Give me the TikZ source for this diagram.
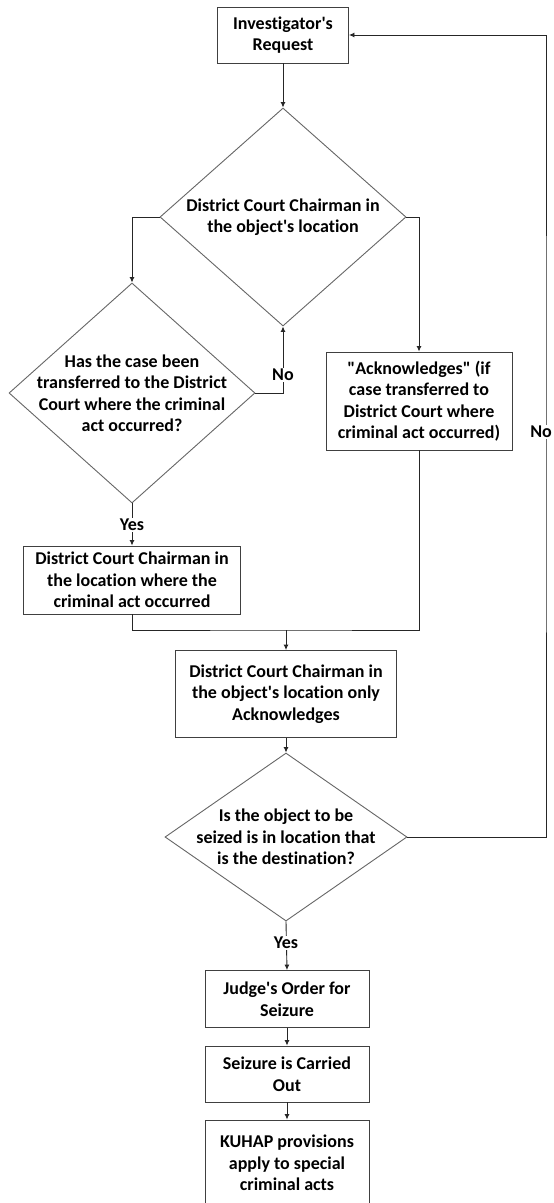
\documentclass[tikz,border=0pt]{standalone}
\usepackage{fontspec}
\setmainfont{Carlito}[Ligatures={TeXOff,CommonOff}]
\usetikzlibrary{shapes.geometric,arrows.meta}
\begin{document}
\begin{tikzpicture}[x=1pt,y=-1pt,
  font=\fontsize{18}{21.5}\selectfont\bfseries,
  box/.style={draw=black!75, line width=0.9pt, align=center, inner sep=0pt, fill=white},
  decision/.style={diamond, draw=black!60, line width=0.9pt, inner sep=0pt},
  dtext/.style={align=center, inner sep=0pt},
  flow/.style={draw=black!85, line width=0.9pt, -{Latex[length=5.5pt,width=5pt]}},
  link/.style={draw=black!85, line width=0.9pt},
  tag/.style={fill=white, inner sep=1pt}]
\useasboundingbox (0,0) rectangle (554,1203);
\fill[white] (0,0) rectangle (554,1203);

% process boxes
\node[box, minimum width=131, minimum height=56] (req) at (283,35) {Investigator's\\Request};
\node[box, minimum width=186, minimum height=98] (ack) at (419,401)
  {"Acknowledges" (if\\case transferred to\\District Court where\\criminal act occurred)};
\node[box, minimum width=217, minimum height=68] (yes1) at (132,580)
  {District Court Chairman in\\the location where the\\criminal act occurred};
\node[box, minimum width=221, minimum height=87] (loc) at (286,694)
  {District Court Chairman in\\the object's location only\\Acknowledges};
\node[box, minimum width=164, minimum height=57] (judge) at (287,999) {Judge's Order for\\Seizure};
\node[box, minimum width=164, minimum height=56] (seize) at (287,1074) {Seizure is Carried\\Out};
\node[box, minimum width=164, minimum height=86] (kuhap) at (287,1163)
  {KUHAP provisions\\apply to special\\criminal acts};

% decisions
\node[decision, minimum width=246, minimum height=218] (d1) at (283,217) {};
\node[dtext] (d1t) at (283,217) {District Court Chairman in\\the object's location};
\node[decision, minimum width=246, minimum height=220] (d2) at (132,393) {};
\node[dtext] (d2t) at (132,393) {Has the case been\\transferred to the District\\Court where the criminal\\act occurred?};
\node[decision, minimum width=242, minimum height=168] (d3) at (286,837) {};
\node[dtext] (d3t) at (286,837) {Is the object to be\\seized is in location that\\is the destination?};

% connectors
\coordinate (join) at (286,630);
\coordinate (ret) at (546,432);
\draw[flow] (req) -- (d1);
\draw[flow] (d1.west) -| (d2.north);
\draw[flow] (d1.east) -| (ack.north);
\draw[flow] (d2.east) -| (d1.south);
\node[tag] (no1) at (283,375) {No};
\draw[flow] (d2.south) -- (yes1.north);
\node[tag] (yes1t) at (132,525) {Yes};
\draw[link] (yes1.south) |- (join) -| (ack.south);
\draw[flow] (join) -- (loc.north);
\draw[flow] (loc) -- (d3);
\draw[flow] (d3.south) -- (judge.north);
\node[tag] (yes2t) at (286,943) {Yes};
\draw[flow] (judge) -- (seize);
\draw[flow] (seize) -- (kuhap);
\draw[flow] (d3.east) -| (ret) |- (req.east);
\node[tag, anchor=east] (no2) at (553,432) {No};
\end{tikzpicture}
\end{document}
